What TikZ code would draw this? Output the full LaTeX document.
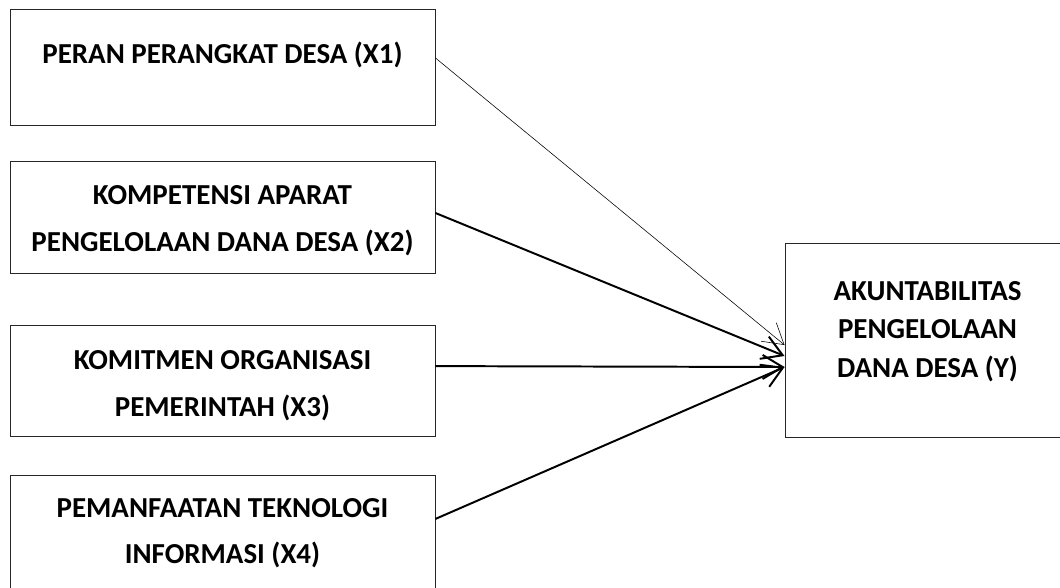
\documentclass[tikz,border=0pt]{standalone}
\usepackage{fontspec}
\setmainfont{Carlito}
\usetikzlibrary{arrows.meta}
\begin{document}
\begin{tikzpicture}[
   x=0.025cm, y=-0.025cm,
   box/.style={rectangle, draw=black!85, line width=0.6pt, minimum width=10.625cm, inner sep=0pt},
   txt/.style={font=\bfseries\fontsize{20.6}{33}\selectfont, align=center},
   ytxt/.style={font=\bfseries\fontsize{20.6}{27.6}\selectfont, align=center},
   arrow/.style={-{Straight Barb[length=5mm,width=6mm]}, line width=1.4pt},
   thin/.style={line width=0.4pt}
]
\clip (0,0) rectangle (1060,587);

% Variabel X
\node[box, minimum height=2.9cm] (x1) at (222.5,67) {};
\node[txt] (x1t) at (222.5,55) {PERAN PERANGKAT DESA (X1)};

\node[box, minimum height=2.8cm] (x2) at (222.5,217) {};
\node[txt] (x2t) at (222.5,220.5) {KOMPETENSI APARAT\\PENGELOLAAN DANA DESA (X2)};

\node[box, minimum height=2.775cm] (x3) at (222.5,380.5) {};
\node[txt] (x3t) at (222.5,385.5) {KOMITMEN ORGANISASI\\PEMERINTAH (X3)};

\node[box, minimum height=2.875cm] (x4) at (222.5,532.5) {};
\node[txt] (x4t) at (222.5,533) {PEMANFAATAN TEKNOLOGI\\INFORMASI (X4)};

% Variabel Y
\node[box, minimum width=7.125cm, minimum height=4.85cm] (y) at (927.5,340) {};
\node[ytxt] (yt) at (927.5,331.5) {AKUNTABILITAS\\PENGELOLAAN\\DANA DESA (Y)};

% Panah
\draw[arrow, thin] ([yshift=0.225cm]x1.east) -- ([yshift=-0.125cm]y.west);
\draw[arrow] ([yshift=0.1cm]x2.east) -- ([yshift=-0.4cm]y.west);
\draw[arrow] ([yshift=0.36cm]x3.east) -- ([yshift=-0.675cm]y.west);
\draw[arrow] ([yshift=0.34cm]x4.east) -- ([yshift=-0.675cm]y.west);

\end{tikzpicture}
\end{document}
